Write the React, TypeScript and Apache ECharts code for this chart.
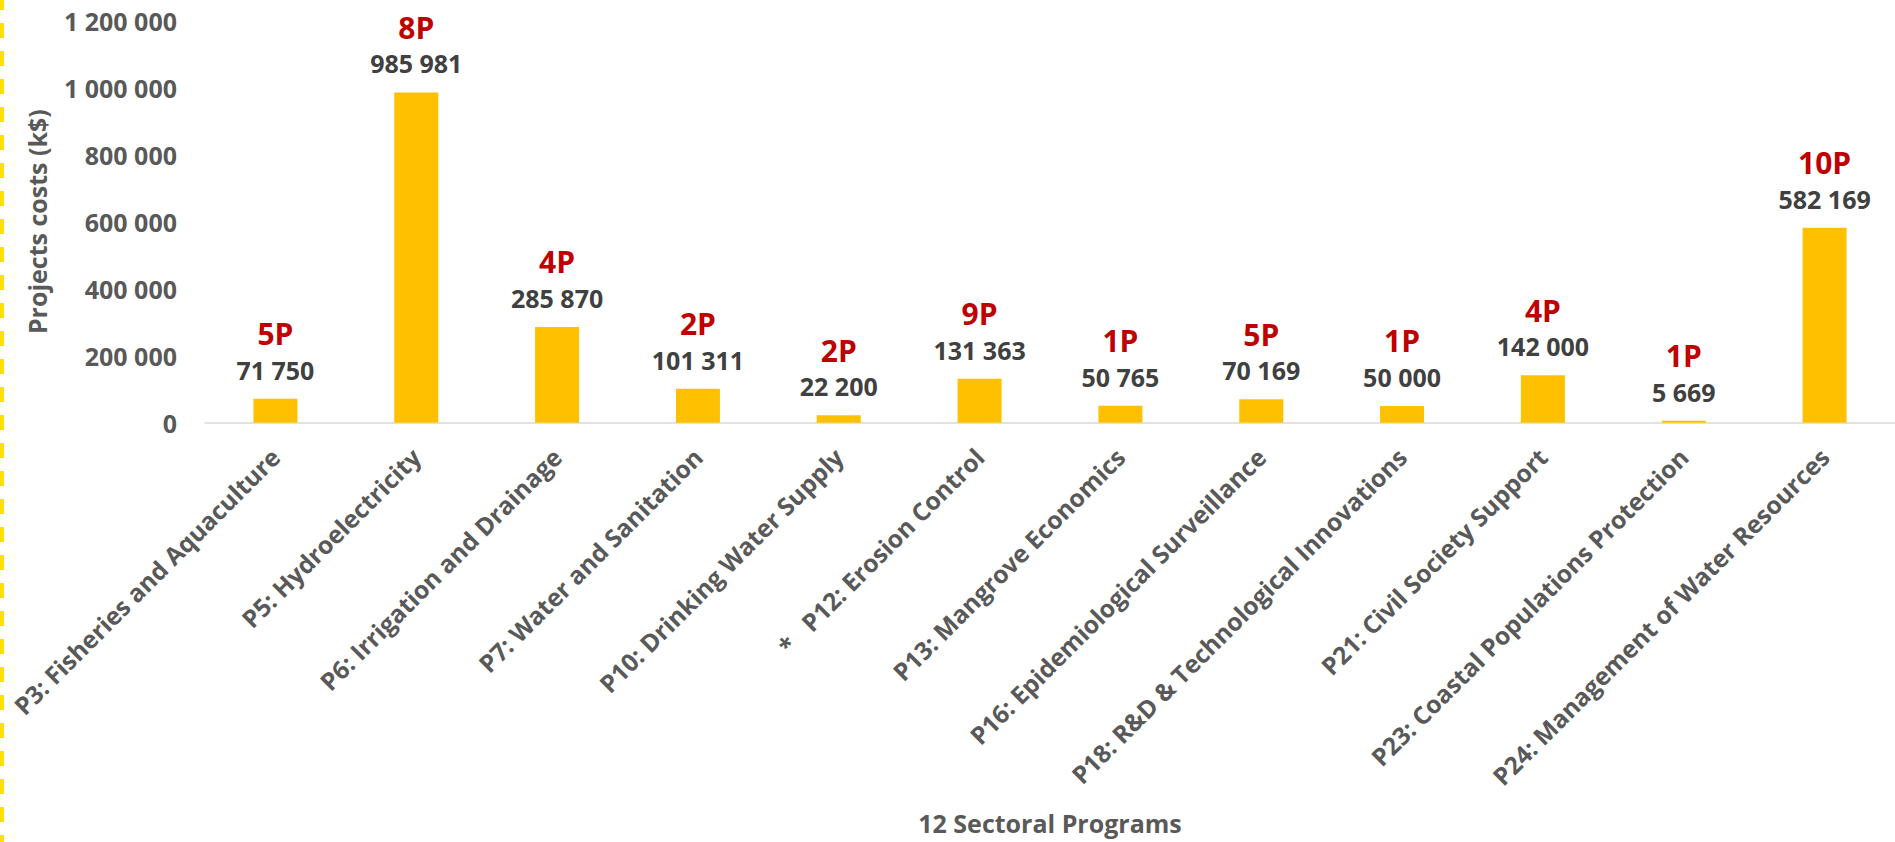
import React, { useEffect, useRef } from "react";
import * as echarts from "echarts";

const categories = [
  "P3: Fisheries and Aquaculture",
  "P5: Hydroelectricity",
  "P6: Irrigation and Drainage",
  "P7: Water and Sanitation",
  "P10: Drinking Water Supply",
  "*   P12: Erosion Control",
  "P13: Mangrove Economics",
  "P16: Epidemiological Surveillance",
  "P18: R&D & Technological Innovations",
  "P21: Civil Society Support",
  "P23: Coastal Populations Protection",
  "P24: Management of Water Resources",
];
const costs = [71750, 985981, 285870, 101311, 22200, 131363, 50765, 70169, 50000, 142000, 5669, 582169];
const projectCounts = [5, 8, 4, 2, 2, 9, 1, 5, 1, 4, 1, 10];
const yTicks = { min: 0, max: 1200000, interval: 200000 };
const yAxisTitle = "Projects costs (k$)";
const xAxisTitle = "12 Sectoral Programs";

const FONT = "'Open Sans', 'Noto Sans', sans-serif";
const fmt = (v: number) => String(v).replace(/\B(?=(\d{3})+(?!\d))/g, " ");

export default function App() {
  const ref = useRef<HTMLDivElement>(null);
  useEffect(() => {
    if (!ref.current) return;
    const chart = echarts.init(ref.current, null, { renderer: "svg" });
    chart.setOption({
      animation: false,
      backgroundColor: "#ffffff",
      textStyle: { fontFamily: FONT },
      grid: { left: 205, right: 0, top: 20.7, bottom: 419.3, containLabel: false },
      xAxis: {
        type: "category",
        data: categories,
        axisLine: { show: true, lineStyle: { color: "#D9D9D9", width: 1.5 } },
        axisTick: { show: false },
        axisLabel: {
          interval: 0,
          rotate: 45,
          margin: 30,
          color: "#595959",
          fontSize: 24.6,
          fontWeight: "bold",
          fontFamily: FONT,
        },
        name: xAxisTitle,
        nameLocation: "middle",
        nameGap: 388,
        nameTextStyle: { color: "#595959", fontSize: 25, lineHeight: 24, fontWeight: "bold", fontFamily: FONT },
      },
      yAxis: {
        type: "value",
        min: yTicks.min,
        max: yTicks.max,
        interval: yTicks.interval,
        splitLine: { show: false },
        axisLine: { show: false },
        axisTick: { show: false },
        axisLabel: {
          margin: 28,
          color: "#595959",
          fontSize: 25,
          fontWeight: "bold",
          fontFamily: FONT,
          formatter: (v: number) => fmt(v),
        },
        name: yAxisTitle,
        nameLocation: "middle",
        nameGap: 168,
        nameRotate: 90,
        nameTextStyle: { color: "#595959", fontSize: 25, fontWeight: "bold", fontFamily: FONT, verticalAlign: "middle" },
      },
      series: [
        {
          type: "bar",
          data: costs,
          barWidth: 44,
          itemStyle: { color: "#FFC000" },
          label: {
            show: true,
            position: "top",
            distance: 16,
            formatter: (p: any) => `{p|${projectCounts[p.dataIndex]}P}\n{v|${fmt(p.value)}}`,
            rich: {
              p: { color: "#C00000", fontSize: 30, fontWeight: "bold", fontFamily: FONT, lineHeight: 46, align: "center" },
              v: { color: "#404040", fontSize: 25, fontWeight: "bold", fontFamily: FONT, lineHeight: 26, align: "center" },
            },
          },
        },
      ],
      graphic: [
        {
          type: "line",
          shape: { x1: 2, y1: -5, x2: 2, y2: 850 },
          style: { stroke: "#FFE000", lineWidth: 4, lineDash: [15, 13] },
          silent: true,
        },
      ],
    });
    return () => chart.dispose();
  }, []);
  return (
    <div
      ref={ref}
      style={{ position: "absolute", left: 0, top: 0, width: 1895, height: 842 }}
    />
  );
}
